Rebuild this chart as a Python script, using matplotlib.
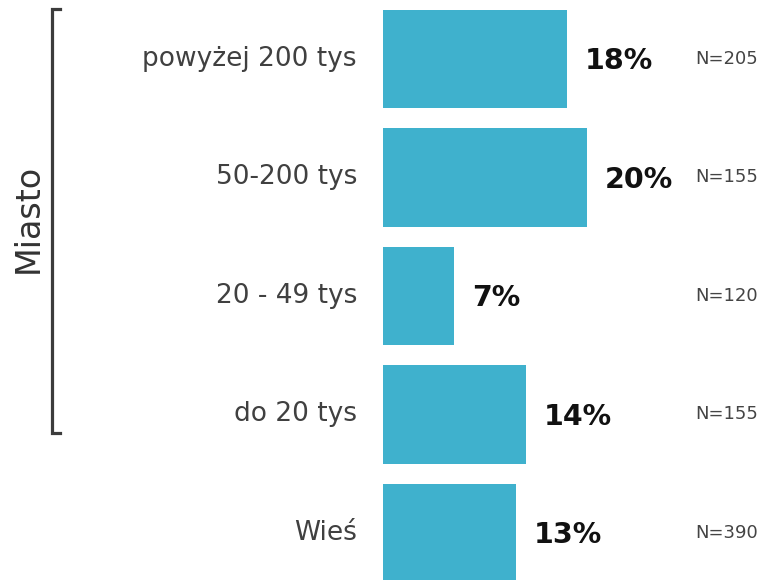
import matplotlib
matplotlib.use("Agg")
import matplotlib.pyplot as plt
from matplotlib.lines import Line2D

categories = ["powyżej 200 tys", "50-200 tys", "20 - 49 tys", "do 20 tys", "Wieś"]
values = [18, 20, 7, 14, 13]
n_labels = ["N=205", "N=155", "N=120", "N=155", "N=390"]
group_label = "Miasto"

W, H = 763, 580
fig = plt.figure(figsize=(W / 100, H / 100), dpi=100)
ax = fig.add_axes([383 / W, 0, 1 - 383 / W, 1])
ax.set_axis_off()

px_per_unit = 10.2
ax.set_xlim(0, (W - 383) / px_per_unit)
ax.set_ylim(4.397, -0.498)

bar_color = "#3FB1CD"
ypos = list(range(len(categories)))
ax.barh(ypos, values, height=0.83, color=bar_color, edgecolor="none")

for y, cat, v, n in zip(ypos, categories, values, n_labels):
    ax.text(-2.55, y, cat, ha="right", va="center", fontsize=19, color="#404040")
    ax.text(v + 1.75, y + 0.02, f"{v}%", ha="left", va="center", fontsize=20.5,
            fontweight="bold", color="#111111")
    ax.text(30.6, y, n, ha="left", va="center", fontsize=13, color="#444444")

# bracket for "Miasto" group
bx, tick = 52, 60
ytop, ybot = 9, 433
fig.add_artist(Line2D([tick / W, bx / W, bx / W, tick / W],
                      [1 - ytop / H, 1 - ytop / H, 1 - ybot / H, 1 - ybot / H],
                      color="#3c3c3c", linewidth=2.3, solid_joinstyle="miter"))
fig.text(28 / W, 1 - 218 / H, group_label, rotation=90, ha="center", va="center",
         fontsize=24, color="#333333")

fig.savefig("out.png", dpi=100)
